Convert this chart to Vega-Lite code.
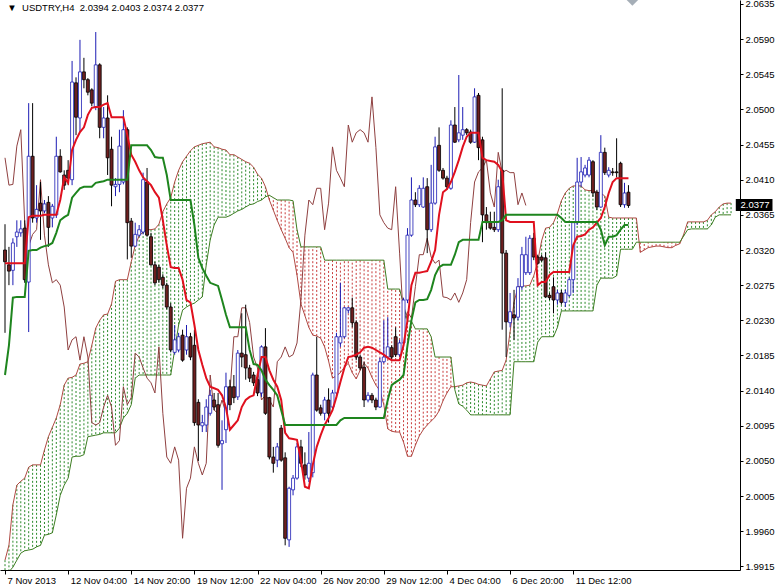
{
"$schema":"https://vega.github.io/schema/vega-lite/v6.json",
"width":740,"height":570,
"autosize":{"type":"none"},
"padding":{"left":0,"top":0,"right":36,"bottom":17},
"background":"white",
"resolve":{"axis":{"x":"independent","y":"independent"}},
"config":{"view":{"stroke":null},"axis":{"labelFont":"Liberation Sans","labelFontSize":9.5,"labelColor":"#000000","domainColor":"#000000","tickColor":"#000000","grid":false,"domainWidth":1,"tickWidth":1,"labelOverlap":false,"labelBound":false,"labelFlush":false}},
"datasets":{
"bars":[
{"i":0,"o":2.032,"h":2.0353,"l":2.0214,"c":2.0305,"t":2.0303,"k":2.016},
{"i":1,"o":2.0301,"h":2.0324,"l":2.0275,"c":2.0293,"t":2.0303,"k":2.0198},
{"i":2,"o":2.0294,"h":2.0335,"l":2.0275,"c":2.0329,"t":2.0303,"k":2.0259},
{"i":3,"o":2.0337,"h":2.0358,"l":2.0324,"c":2.0343,"t":2.0303,"k":2.026},
{"i":4,"o":2.0342,"h":2.0358,"l":2.0337,"c":2.0347,"t":2.0303,"k":2.026},
{"i":5,"o":2.0348,"h":2.0358,"l":2.0278,"c":2.0282,"t":2.0303,"k":2.026},
{"i":6,"o":2.0279,"h":2.0508,"l":2.0215,"c":2.044,"t":2.0362,"k":2.0319},
{"i":7,"o":2.044,"h":2.0508,"l":2.0355,"c":2.0361,"t":2.0364,"k":2.032},
{"i":8,"o":2.0361,"h":2.0403,"l":2.0355,"c":2.0372,"t":2.0364,"k":2.032},
{"i":9,"o":2.038,"h":2.0407,"l":2.0333,"c":2.037,"t":2.0364,"k":2.0323},
{"i":10,"o":2.037,"h":2.0384,"l":2.0367,"c":2.0379,"t":2.0365,"k":2.0325},
{"i":11,"o":2.0381,"h":2.0389,"l":2.0324,"c":2.0349,"t":2.0365,"k":2.0326},
{"i":12,"o":2.0361,"h":2.0379,"l":2.0349,"c":2.0376,"t":2.0365,"k":2.0329},
{"i":13,"o":2.0365,"h":2.0465,"l":2.0361,"c":2.044,"t":2.0365,"k":2.0342},
{"i":14,"o":2.044,"h":2.0449,"l":2.0419,"c":2.042,"t":2.0384,"k":2.0358},
{"i":15,"o":2.0416,"h":2.0422,"l":2.0397,"c":2.0403,"t":2.0413,"k":2.0362},
{"i":16,"o":2.0422,"h":2.0435,"l":2.0403,"c":2.0412,"t":2.0406,"k":2.0365},
{"i":17,"o":2.041,"h":2.0562,"l":2.0403,"c":2.0535,"t":2.0448,"k":2.0387},
{"i":18,"o":2.0534,"h":2.0541,"l":2.0467,"c":2.049,"t":2.0461,"k":2.0393},
{"i":19,"o":2.0489,"h":2.0589,"l":2.0471,"c":2.0548,"t":2.0471,"k":2.0399},
{"i":20,"o":2.0548,"h":2.0566,"l":2.0527,"c":2.0538,"t":2.0477,"k":2.0401},
{"i":21,"o":2.0538,"h":2.054,"l":2.0518,"c":2.0522,"t":2.0493,"k":2.0401},
{"i":22,"o":2.0525,"h":2.0527,"l":2.0504,"c":2.0508,"t":2.0502,"k":2.0401},
{"i":23,"o":2.0503,"h":2.0599,"l":2.0499,"c":2.0557,"t":2.0503,"k":2.0406},
{"i":24,"o":2.0557,"h":2.0559,"l":2.0463,"c":2.0477,"t":2.0503,"k":2.0407},
{"i":25,"o":2.0477,"h":2.0503,"l":2.0463,"c":2.0489,"t":2.0506,"k":2.0408},
{"i":26,"o":2.0489,"h":2.0518,"l":2.0416,"c":2.0438,"t":2.0508,"k":2.041},
{"i":27,"o":2.0449,"h":2.0465,"l":2.0376,"c":2.0403,"t":2.049,"k":2.041},
{"i":28,"o":2.0401,"h":2.0412,"l":2.0389,"c":2.0404,"t":2.049,"k":2.041},
{"i":29,"o":2.0404,"h":2.0474,"l":2.0394,"c":2.0453,"t":2.049,"k":2.041},
{"i":30,"o":2.0407,"h":2.0499,"l":2.0404,"c":2.0474,"t":2.049,"k":2.041},
{"i":31,"o":2.0474,"h":2.0477,"l":2.0308,"c":2.0355,"t":2.0467,"k":2.041},
{"i":32,"o":2.0357,"h":2.0361,"l":2.031,"c":2.0325,"t":2.0442,"k":2.0454},
{"i":33,"o":2.0325,"h":2.0355,"l":2.0324,"c":2.034,"t":2.0433,"k":2.0454},
{"i":34,"o":2.0339,"h":2.0352,"l":2.0337,"c":2.0346,"t":2.0422,"k":2.0454},
{"i":35,"o":2.0343,"h":2.0419,"l":2.034,"c":2.041,"t":2.0413,"k":2.0454},
{"i":36,"o":2.0407,"h":2.0425,"l":2.0337,"c":2.0339,"t":2.0408,"k":2.0454},
{"i":37,"o":2.0337,"h":2.0342,"l":2.03,"c":2.0301,"t":2.0403,"k":2.0448},
{"i":38,"o":2.0301,"h":2.0305,"l":2.0275,"c":2.0278,"t":2.0394,"k":2.0439},
{"i":39,"o":2.0298,"h":2.0301,"l":2.0278,"c":2.0282,"t":2.0387,"k":2.0438},
{"i":40,"o":2.0285,"h":2.0289,"l":2.0271,"c":2.0275,"t":2.0358,"k":2.0438},
{"i":41,"o":2.0275,"h":2.0278,"l":2.0244,"c":2.0247,"t":2.0326,"k":2.0416},
{"i":42,"o":2.0247,"h":2.0252,"l":2.0189,"c":2.0192,"t":2.0298,"k":2.0384},
{"i":43,"o":2.0189,"h":2.0224,"l":2.0186,"c":2.0205,"t":2.0297,"k":2.0384},
{"i":44,"o":2.0192,"h":2.0214,"l":2.0189,"c":2.0209,"t":2.0297,"k":2.0384},
{"i":45,"o":2.0211,"h":2.0218,"l":2.0177,"c":2.0179,"t":2.0282,"k":2.0384},
{"i":46,"o":2.0192,"h":2.0224,"l":2.0186,"c":2.0209,"t":2.0256,"k":2.0384},
{"i":47,"o":2.0209,"h":2.0214,"l":2.0179,"c":2.0183,"t":2.0253,"k":2.0384},
{"i":48,"o":2.0198,"h":2.0218,"l":2.0095,"c":2.0099,"t":2.0224,"k":2.0352},
{"i":49,"o":2.0125,"h":2.0129,"l":2.005,"c":2.0096,"t":2.0192,"k":2.031},
{"i":50,"o":2.0095,"h":2.0109,"l":2.0087,"c":2.0099,"t":2.0173,"k":2.0297},
{"i":51,"o":2.0096,"h":2.0129,"l":2.0087,"c":2.0119,"t":2.0156,"k":2.0287},
{"i":52,"o":2.0111,"h":2.0141,"l":2.0108,"c":2.0134,"t":2.0145,"k":2.0278},
{"i":53,"o":2.0128,"h":2.0137,"l":2.0115,"c":2.0119,"t":2.0143,"k":2.0276},
{"i":54,"o":2.0122,"h":2.0137,"l":2.0067,"c":2.007,"t":2.0141,"k":2.0274},
{"i":55,"o":2.0072,"h":2.0102,"l":2.0013,"c":2.0076,"t":2.0134,"k":2.0256},
{"i":56,"o":2.009,"h":2.0163,"l":2.0073,"c":2.0145,"t":2.0118,"k":2.0237},
{"i":57,"o":2.0145,"h":2.0154,"l":2.0115,"c":2.0122,"t":2.009,"k":2.0221},
{"i":58,"o":2.0145,"h":2.016,"l":2.0124,"c":2.0131,"t":2.0096,"k":2.0221},
{"i":59,"o":2.0132,"h":2.0192,"l":2.0128,"c":2.0188,"t":2.0102,"k":2.0221},
{"i":60,"o":2.0188,"h":2.0239,"l":2.017,"c":2.0183,"t":2.0119,"k":2.0221},
{"i":61,"o":2.0186,"h":2.025,"l":2.0154,"c":2.0169,"t":2.0128,"k":2.0221},
{"i":62,"o":2.0169,"h":2.0173,"l":2.0151,"c":2.0156,"t":2.0132,"k":2.0192},
{"i":63,"o":2.016,"h":2.0164,"l":2.0146,"c":2.015,"t":2.0134,"k":2.0174},
{"i":64,"o":2.0154,"h":2.0157,"l":2.0133,"c":2.0137,"t":2.016,"k":2.0173},
{"i":65,"o":2.0137,"h":2.0198,"l":2.0132,"c":2.0196,"t":2.0183,"k":2.0166},
{"i":66,"o":2.0196,"h":2.022,"l":2.0109,"c":2.0111,"t":2.0183,"k":2.0154},
{"i":67,"o":2.0131,"h":2.0132,"l":2.0052,"c":2.0055,"t":2.0166,"k":2.0147},
{"i":68,"o":2.0055,"h":2.0068,"l":2.0035,"c":2.0047,"t":2.0154,"k":2.0141},
{"i":69,"o":2.0051,"h":2.0073,"l":2.0042,"c":2.0068,"t":2.0145,"k":2.0134},
{"i":70,"o":2.0092,"h":2.0096,"l":2.0049,"c":2.0051,"t":2.0128,"k":2.0115},
{"i":71,"o":2.0054,"h":2.0061,"l":1.9942,"c":1.9951,"t":2.0086,"k":2.0096},
{"i":72,"o":1.9949,"h":2.0017,"l":1.994,"c":2.0015,"t":2.0079,"k":2.0096},
{"i":73,"o":2.0013,"h":2.0032,"l":2.0006,"c":2.0028,"t":2.0078,"k":2.0096},
{"i":74,"o":2.0028,"h":2.0073,"l":2.0026,"c":2.0068,"t":2.0077,"k":2.0096},
{"i":75,"o":2.0068,"h":2.0077,"l":2.0042,"c":2.0047,"t":2.0051,"k":2.0096},
{"i":76,"o":2.0045,"h":2.0061,"l":2.0026,"c":2.0032,"t":2.0017,"k":2.0096},
{"i":77,"o":2.0028,"h":2.0087,"l":2.0023,"c":2.0047,"t":2.0015,"k":2.0096},
{"i":78,"o":2.0035,"h":2.0163,"l":2.0029,"c":2.016,"t":2.0045,"k":2.0096},
{"i":79,"o":2.016,"h":2.0209,"l":2.0113,"c":2.0115,"t":2.0068,"k":2.0096},
{"i":80,"o":2.0118,"h":2.0122,"l":2.0108,"c":2.0111,"t":2.0083,"k":2.0096},
{"i":81,"o":2.0111,"h":2.0132,"l":2.0102,"c":2.0128,"t":2.0096,"k":2.0096},
{"i":82,"o":2.0128,"h":2.0143,"l":2.0099,"c":2.0111,"t":2.0105,"k":2.0096},
{"i":83,"o":2.0119,"h":2.0141,"l":2.0115,"c":2.0137,"t":2.0115,"k":2.0096},
{"i":84,"o":2.0137,"h":2.0214,"l":2.0132,"c":2.0209,"t":2.0132,"k":2.0096},
{"i":85,"o":2.0201,"h":2.0278,"l":2.0196,"c":2.0209,"t":2.0151,"k":2.0102},
{"i":86,"o":2.0209,"h":2.0247,"l":2.0207,"c":2.0246,"t":2.0169,"k":2.0105},
{"i":87,"o":2.0243,"h":2.0247,"l":2.0239,"c":2.0246,"t":2.0183,"k":2.0105},
{"i":88,"o":2.0246,"h":2.0259,"l":2.0221,"c":2.0227,"t":2.0184,"k":2.0105},
{"i":89,"o":2.0227,"h":2.023,"l":2.0179,"c":2.0183,"t":2.0186,"k":2.0105},
{"i":90,"o":2.0183,"h":2.0186,"l":2.0166,"c":2.0169,"t":2.0189,"k":2.0105},
{"i":91,"o":2.017,"h":2.0177,"l":2.0119,"c":2.0128,"t":2.0195,"k":2.0105},
{"i":92,"o":2.0128,"h":2.0138,"l":2.0125,"c":2.0134,"t":2.0196,"k":2.0105},
{"i":93,"o":2.0134,"h":2.0137,"l":2.0124,"c":2.0128,"t":2.0195,"k":2.0105},
{"i":94,"o":2.0128,"h":2.0131,"l":2.0115,"c":2.0119,"t":2.0192,"k":2.0105},
{"i":95,"o":2.0119,"h":2.0182,"l":2.0118,"c":2.0177,"t":2.0189,"k":2.0105},
{"i":96,"o":2.0177,"h":2.023,"l":2.0175,"c":2.0183,"t":2.0186,"k":2.0105},
{"i":97,"o":2.0183,"h":2.0234,"l":2.0182,"c":2.0196,"t":2.0182,"k":2.0128},
{"i":98,"o":2.0195,"h":2.0198,"l":2.0179,"c":2.0183,"t":2.0179,"k":2.0147},
{"i":99,"o":2.0209,"h":2.0221,"l":2.0183,"c":2.0186,"t":2.0179,"k":2.0151},
{"i":100,"o":2.0186,"h":2.0205,"l":2.0183,"c":2.0201,"t":2.0179,"k":2.0154},
{"i":101,"o":2.0201,"h":2.0259,"l":2.0198,"c":2.0256,"t":2.0198,"k":2.016},
{"i":102,"o":2.0256,"h":2.0348,"l":2.0252,"c":2.0339,"t":2.023,"k":2.0198},
{"i":103,"o":2.0339,"h":2.0413,"l":2.0337,"c":2.0384,"t":2.0275,"k":2.023},
{"i":104,"o":2.0384,"h":2.0394,"l":2.0375,"c":2.0378,"t":2.0291,"k":2.0253},
{"i":105,"o":2.0378,"h":2.0403,"l":2.0375,"c":2.0399,"t":2.0291,"k":2.0256},
{"i":106,"o":2.0375,"h":2.0413,"l":2.0374,"c":2.0399,"t":2.0292,"k":2.0256},
{"i":107,"o":2.0401,"h":2.0412,"l":2.0316,"c":2.0346,"t":2.0293,"k":2.0257},
{"i":108,"o":2.0346,"h":2.0429,"l":2.0343,"c":2.038,"t":2.0305,"k":2.0269},
{"i":109,"o":2.038,"h":2.0465,"l":2.0378,"c":2.0452,"t":2.032,"k":2.0288},
{"i":110,"o":2.0454,"h":2.0477,"l":2.042,"c":2.0422,"t":2.0365,"k":2.0298},
{"i":111,"o":2.0422,"h":2.0425,"l":2.041,"c":2.0412,"t":2.0394,"k":2.0301},
{"i":112,"o":2.0412,"h":2.0415,"l":2.0397,"c":2.0401,"t":2.0398,"k":2.0301},
{"i":113,"o":2.0399,"h":2.0486,"l":2.0397,"c":2.048,"t":2.0407,"k":2.0301},
{"i":114,"o":2.048,"h":2.0503,"l":2.0457,"c":2.0458,"t":2.042,"k":2.0314},
{"i":115,"o":2.0461,"h":2.0544,"l":2.0458,"c":2.047,"t":2.0435,"k":2.033},
{"i":116,"o":2.0467,"h":2.0503,"l":2.0461,"c":2.0474,"t":2.0452,"k":2.0333},
{"i":117,"o":2.0474,"h":2.0476,"l":2.0467,"c":2.047,"t":2.0465,"k":2.0333},
{"i":118,"o":2.0471,"h":2.0474,"l":2.0456,"c":2.0458,"t":2.047,"k":2.0333},
{"i":119,"o":2.0458,"h":2.0527,"l":2.0457,"c":2.0516,"t":2.047,"k":2.0333},
{"i":120,"o":2.0518,"h":2.0521,"l":2.0435,"c":2.0451,"t":2.047,"k":2.0333},
{"i":121,"o":2.0461,"h":2.0465,"l":2.033,"c":2.0365,"t":2.0438,"k":2.0356},
{"i":122,"o":2.0365,"h":2.0375,"l":2.0346,"c":2.0355,"t":2.0435,"k":2.0356},
{"i":123,"o":2.0356,"h":2.0369,"l":2.0346,"c":2.0348,"t":2.0434,"k":2.0356},
{"i":124,"o":2.0349,"h":2.0369,"l":2.0343,"c":2.0346,"t":2.0433,"k":2.0356},
{"i":125,"o":2.0346,"h":2.041,"l":2.0343,"c":2.0401,"t":2.0429,"k":2.0356},
{"i":126,"o":2.0422,"h":2.0527,"l":2.0218,"c":2.0316,"t":2.042,"k":2.0358},
{"i":127,"o":2.0316,"h":2.032,"l":2.0183,"c":2.0228,"t":2.0358,"k":2.0365},
{"i":128,"o":2.0227,"h":2.0265,"l":2.0221,"c":2.0241,"t":2.0356,"k":2.0365},
{"i":129,"o":2.0237,"h":2.0269,"l":2.0205,"c":2.0233,"t":2.0356,"k":2.0365},
{"i":130,"o":2.0234,"h":2.0284,"l":2.023,"c":2.0273,"t":2.0356,"k":2.0365},
{"i":131,"o":2.0273,"h":2.0324,"l":2.0269,"c":2.0314,"t":2.0356,"k":2.0365},
{"i":132,"o":2.0291,"h":2.0337,"l":2.0288,"c":2.0314,"t":2.0356,"k":2.0365},
{"i":133,"o":2.0291,"h":2.0339,"l":2.0288,"c":2.0335,"t":2.0356,"k":2.0365},
{"i":134,"o":2.0335,"h":2.0342,"l":2.0307,"c":2.0311,"t":2.0356,"k":2.0365},
{"i":135,"o":2.0311,"h":2.0314,"l":2.0301,"c":2.0303,"t":2.0275,"k":2.0365},
{"i":136,"o":2.0311,"h":2.0314,"l":2.0305,"c":2.0307,"t":2.0279,"k":2.0365},
{"i":137,"o":2.031,"h":2.0317,"l":2.0259,"c":2.026,"t":2.0279,"k":2.0365},
{"i":138,"o":2.0262,"h":2.0265,"l":2.0256,"c":2.0259,"t":2.0288,"k":2.0365},
{"i":139,"o":2.0273,"h":2.0285,"l":2.0239,"c":2.0256,"t":2.0292,"k":2.0365},
{"i":140,"o":2.0256,"h":2.0269,"l":2.025,"c":2.0265,"t":2.0292,"k":2.0365},
{"i":141,"o":2.0265,"h":2.0269,"l":2.025,"c":2.0253,"t":2.0292,"k":2.0361},
{"i":142,"o":2.0253,"h":2.0269,"l":2.0247,"c":2.0265,"t":2.0292,"k":2.0356},
{"i":143,"o":2.0262,"h":2.0285,"l":2.026,"c":2.0282,"t":2.0292,"k":2.0356},
{"i":144,"o":2.0282,"h":2.0356,"l":2.0265,"c":2.0355,"t":2.0326,"k":2.0356},
{"i":145,"o":2.0355,"h":2.0438,"l":2.0352,"c":2.0407,"t":2.0337,"k":2.0356},
{"i":146,"o":2.0407,"h":2.0439,"l":2.0401,"c":2.042,"t":2.0338,"k":2.0356},
{"i":147,"o":2.0416,"h":2.0429,"l":2.0413,"c":2.0425,"t":2.034,"k":2.0356},
{"i":148,"o":2.0416,"h":2.0439,"l":2.0413,"c":2.0435,"t":2.0346,"k":2.0356},
{"i":149,"o":2.0433,"h":2.0435,"l":2.0388,"c":2.0393,"t":2.0349,"k":2.0356},
{"i":150,"o":2.0394,"h":2.0397,"l":2.0371,"c":2.0375,"t":2.0355,"k":2.0356},
{"i":151,"o":2.0375,"h":2.0467,"l":2.0374,"c":2.0445,"t":2.0361,"k":2.0346},
{"i":152,"o":2.0445,"h":2.0451,"l":2.0416,"c":2.0419,"t":2.0375,"k":2.0326},
{"i":153,"o":2.0416,"h":2.0426,"l":2.0413,"c":2.0422,"t":2.0393,"k":2.0337},
{"i":154,"o":2.042,"h":2.0425,"l":2.0415,"c":2.0419,"t":2.0407,"k":2.0337},
{"i":155,"o":2.042,"h":2.0463,"l":2.0413,"c":2.0419,"t":2.0412,"k":2.0339},
{"i":156,"o":2.0431,"h":2.0433,"l":2.0375,"c":2.0378,"t":2.0412,"k":2.0346},
{"i":157,"o":2.0378,"h":2.0406,"l":2.0374,"c":2.0393,"t":2.0412,"k":2.0352},
{"i":158,"o":2.0394,"h":2.0403,"l":2.0374,"c":2.0377,"t":2.0412,"k":2.0352}
],
"cloud":[
{"j":0,"a":1.9923,"b":1.9904},{"j":1,"a":1.9942,"b":1.9908},{"j":2,"a":1.9994,"b":1.9914},{"j":3,"a":2.0019,"b":1.9923},{"j":4,"a":2.0024,"b":1.9932},{"j":5,"a":2.0028,"b":1.9935},{"j":6,"a":2.0042,"b":1.9936},{"j":7,"a":2.0045,"b":1.9937},{"j":8,"a":2.0045,"b":1.994},{"j":9,"a":2.0045,"b":1.9942},
{"j":10,"a":2.0064,"b":1.9955},{"j":11,"a":2.0081,"b":1.9956},{"j":12,"a":2.0093,"b":1.9958},{"j":13,"a":2.0105,"b":1.9981},{"j":14,"a":2.0122,"b":2.0006},{"j":15,"a":2.0147,"b":2.0019},{"j":16,"a":2.0156,"b":2.0028},{"j":17,"a":2.0157,"b":2.0055},{"j":18,"a":2.016,"b":2.0056},{"j":19,"a":2.0174,"b":2.0056},
{"j":20,"a":2.0175,"b":2.0058},{"j":21,"a":2.0177,"b":2.0081},{"j":22,"a":2.0198,"b":2.0082},{"j":23,"a":2.022,"b":2.0083},{"j":24,"a":2.023,"b":2.0084},{"j":25,"a":2.0237,"b":2.0086},{"j":26,"a":2.0238,"b":2.0086},{"j":27,"a":2.0251,"b":2.0086},{"j":28,"a":2.028,"b":2.0086},{"j":29,"a":2.0282,"b":2.0092},
{"j":30,"a":2.0282,"b":2.0105},{"j":31,"a":2.0282,"b":2.0111},{"j":32,"a":2.0305,"b":2.0122},{"j":33,"a":2.0326,"b":2.0156},{"j":34,"a":2.0338,"b":2.016},{"j":35,"a":2.0343,"b":2.016},{"j":36,"a":2.0346,"b":2.016},{"j":37,"a":2.0346,"b":2.016},{"j":38,"a":2.0347,"b":2.016},{"j":39,"a":2.0353,"b":2.016},
{"j":40,"a":2.0369,"b":2.016},{"j":41,"a":2.0379,"b":2.016},{"j":42,"a":2.0387,"b":2.016},{"j":43,"a":2.0407,"b":2.0192},{"j":44,"a":2.0422,"b":2.0224},{"j":45,"a":2.0433,"b":2.0243},{"j":46,"a":2.044,"b":2.0247},{"j":47,"a":2.0447,"b":2.025},{"j":48,"a":2.0452,"b":2.0252},{"j":49,"a":2.0454,"b":2.0256},
{"j":50,"a":2.0456,"b":2.026},{"j":51,"a":2.0457,"b":2.0301},{"j":52,"a":2.0458,"b":2.0333},{"j":53,"a":2.0452,"b":2.0352},{"j":54,"a":2.0451,"b":2.0362},{"j":55,"a":2.0449,"b":2.0362},{"j":56,"a":2.0448,"b":2.0362},{"j":57,"a":2.0442,"b":2.0364},{"j":58,"a":2.0442,"b":2.0367},{"j":59,"a":2.0439,"b":2.037},
{"j":60,"a":2.0436,"b":2.0372},{"j":61,"a":2.0433,"b":2.0375},{"j":62,"a":2.0431,"b":2.0378},{"j":63,"a":2.0426,"b":2.0379},{"j":64,"a":2.0417,"b":2.0382},{"j":65,"a":2.0412,"b":2.0384},{"j":66,"a":2.0401,"b":2.0388},{"j":67,"a":2.0384,"b":2.039},{"j":68,"a":2.0371,"b":2.0387},{"j":69,"a":2.0358,"b":2.0384},
{"j":70,"a":2.0346,"b":2.0384},{"j":71,"a":2.0335,"b":2.0384},{"j":72,"a":2.0323,"b":2.0384},{"j":73,"a":2.0317,"b":2.0383},{"j":74,"a":2.0288,"b":2.0346},{"j":75,"a":2.0251,"b":2.0324},{"j":76,"a":2.0236,"b":2.0324},{"j":77,"a":2.0221,"b":2.0324},{"j":78,"a":2.0211,"b":2.0324},{"j":79,"a":2.021,"b":2.0324},
{"j":80,"a":2.0207,"b":2.0324},{"j":81,"a":2.0196,"b":2.0307},{"j":82,"a":2.0178,"b":2.0307},{"j":83,"a":2.0156,"b":2.0307},{"j":84,"a":2.0159,"b":2.0307},{"j":85,"a":2.0163,"b":2.0307},{"j":86,"a":2.017,"b":2.0307},{"j":87,"a":2.0175,"b":2.0307},{"j":88,"a":2.0163,"b":2.0307},{"j":89,"a":2.0155,"b":2.0307},
{"j":90,"a":2.0166,"b":2.0307},{"j":91,"a":2.0175,"b":2.0307},{"j":92,"a":2.0169,"b":2.0307},{"j":93,"a":2.0157,"b":2.0307},{"j":94,"a":2.0147,"b":2.0307},{"j":95,"a":2.014,"b":2.0307},{"j":96,"a":2.0122,"b":2.0307},{"j":97,"a":2.0091,"b":2.027},{"j":98,"a":2.0088,"b":2.027},{"j":99,"a":2.0087,"b":2.027},
{"j":100,"a":2.0087,"b":2.027},{"j":101,"a":2.0074,"b":2.025},{"j":102,"a":2.0056,"b":2.0229},{"j":103,"a":2.0056,"b":2.0229},{"j":104,"a":2.007,"b":2.0219},{"j":105,"a":2.0082,"b":2.0219},{"j":106,"a":2.009,"b":2.0219},{"j":107,"a":2.0096,"b":2.0219},{"j":108,"a":2.0101,"b":2.0209},{"j":109,"a":2.0106,"b":2.0183},
{"j":110,"a":2.0114,"b":2.0183},{"j":111,"a":2.0127,"b":2.0183},{"j":112,"a":2.0137,"b":2.0183},{"j":113,"a":2.0145,"b":2.0183},{"j":114,"a":2.0145,"b":2.0141},{"j":115,"a":2.0146,"b":2.0123},{"j":116,"a":2.0147,"b":2.012},{"j":117,"a":2.015,"b":2.0115},{"j":118,"a":2.0151,"b":2.0109},{"j":119,"a":2.015,"b":2.0109},
{"j":120,"a":2.0148,"b":2.0109},{"j":121,"a":2.0147,"b":2.0109},{"j":122,"a":2.0146,"b":2.0109},{"j":123,"a":2.0155,"b":2.0109},{"j":124,"a":2.0164,"b":2.0109},{"j":125,"a":2.0165,"b":2.0109},{"j":126,"a":2.0166,"b":2.0109},{"j":127,"a":2.0179,"b":2.0109},{"j":128,"a":2.0215,"b":2.0109},{"j":129,"a":2.0253,"b":2.0177},
{"j":130,"a":2.0273,"b":2.0177},{"j":131,"a":2.0274,"b":2.0177},{"j":132,"a":2.0274,"b":2.0177},{"j":133,"a":2.0275,"b":2.0177},{"j":134,"a":2.0287,"b":2.0177},{"j":135,"a":2.0305,"b":2.0202},{"j":136,"a":2.0332,"b":2.0209},{"j":137,"a":2.0348,"b":2.0209},{"j":138,"a":2.0349,"b":2.0209},{"j":139,"a":2.0355,"b":2.0209},
{"j":140,"a":2.0367,"b":2.0221},{"j":141,"a":2.0383,"b":2.0242},{"j":142,"a":2.0393,"b":2.0242},{"j":143,"a":2.0399,"b":2.0242},{"j":144,"a":2.0402,"b":2.0242},{"j":145,"a":2.0402,"b":2.0242},{"j":146,"a":2.0402,"b":2.0242},{"j":147,"a":2.0397,"b":2.0242},{"j":148,"a":2.0396,"b":2.0242},{"j":149,"a":2.0396,"b":2.0242},
{"j":150,"a":2.0394,"b":2.0275},{"j":151,"a":2.0393,"b":2.0284},{"j":152,"a":2.0389,"b":2.0284},{"j":153,"a":2.0362,"b":2.0284},{"j":154,"a":2.0361,"b":2.0284},{"j":155,"a":2.0361,"b":2.0287},{"j":156,"a":2.0361,"b":2.0321},{"j":157,"a":2.0361,"b":2.0321},{"j":158,"a":2.0361,"b":2.0321},{"j":159,"a":2.0361,"b":2.0321},
{"j":160,"a":2.0361,"b":2.033},{"j":161,"a":2.0317,"b":2.033},{"j":162,"a":2.032,"b":2.033},{"j":163,"a":2.0323,"b":2.033},{"j":164,"a":2.0324,"b":2.033},{"j":165,"a":2.0325,"b":2.033},{"j":166,"a":2.0325,"b":2.033},{"j":167,"a":2.0324,"b":2.033},{"j":168,"a":2.0323,"b":2.033},{"j":169,"a":2.0323,"b":2.033},
{"j":170,"a":2.0326,"b":2.033},{"j":171,"a":2.0328,"b":2.033},{"j":172,"a":2.034,"b":2.0338},{"j":173,"a":2.0356,"b":2.0346},{"j":174,"a":2.0356,"b":2.0347},{"j":175,"a":2.0356,"b":2.0347},{"j":176,"a":2.0356,"b":2.0347},{"j":177,"a":2.0356,"b":2.0347},{"j":178,"a":2.0358,"b":2.0347},{"j":179,"a":2.0365,"b":2.0352},
{"j":180,"a":2.0369,"b":2.0362},{"j":181,"a":2.0375,"b":2.0365},{"j":182,"a":2.0379,"b":2.0365},{"j":183,"a":2.038,"b":2.0365},{"j":184,"a":2.038,"b":2.0365}
],
"chk":[
{"j":0,"v":2.0438},{"j":1,"v":2.0403},{"j":2,"v":2.0404},{"j":3,"v":2.0453},{"j":4,"v":2.0474},{"j":5,"v":2.0355},{"j":6,"v":2.0325},{"j":7,"v":2.034},{"j":8,"v":2.0346},{"j":9,"v":2.041},
{"j":10,"v":2.0339},{"j":11,"v":2.0301},{"j":12,"v":2.0278},{"j":13,"v":2.0282},{"j":14,"v":2.0275},{"j":15,"v":2.0247},{"j":16,"v":2.0192},{"j":17,"v":2.0205},{"j":18,"v":2.0209},{"j":19,"v":2.0179},
{"j":20,"v":2.0209},{"j":21,"v":2.0183},{"j":22,"v":2.0099},{"j":23,"v":2.0096},{"j":24,"v":2.0099},{"j":25,"v":2.0119},{"j":26,"v":2.0134},{"j":27,"v":2.0119},{"j":28,"v":2.007},{"j":29,"v":2.0076},
{"j":30,"v":2.0145},{"j":31,"v":2.0122},{"j":32,"v":2.0131},{"j":33,"v":2.0188},{"j":34,"v":2.0183},{"j":35,"v":2.0169},{"j":36,"v":2.0156},{"j":37,"v":2.015},{"j":38,"v":2.0137},{"j":39,"v":2.0196},
{"j":40,"v":2.0111},{"j":41,"v":2.0055},{"j":42,"v":2.0047},{"j":43,"v":2.0068},{"j":44,"v":2.0051},{"j":45,"v":1.9951},{"j":46,"v":2.0015},{"j":47,"v":2.0028},{"j":48,"v":2.0068},{"j":49,"v":2.0047},
{"j":50,"v":2.0032},{"j":51,"v":2.0047},{"j":52,"v":2.016},{"j":53,"v":2.0115},{"j":54,"v":2.0111},{"j":55,"v":2.0128},{"j":56,"v":2.0111},{"j":57,"v":2.0137},{"j":58,"v":2.0209},{"j":59,"v":2.0209},
{"j":60,"v":2.0246},{"j":61,"v":2.0246},{"j":62,"v":2.0227},{"j":63,"v":2.0183},{"j":64,"v":2.0169},{"j":65,"v":2.0128},{"j":66,"v":2.0134},{"j":67,"v":2.0128},{"j":68,"v":2.0119},{"j":69,"v":2.0177},
{"j":70,"v":2.0183},{"j":71,"v":2.0196},{"j":72,"v":2.0183},{"j":73,"v":2.0186},{"j":74,"v":2.0201},{"j":75,"v":2.0256},{"j":76,"v":2.0339},{"j":77,"v":2.0384},{"j":78,"v":2.0378},{"j":79,"v":2.0399},
{"j":80,"v":2.0399},{"j":81,"v":2.0346},{"j":82,"v":2.038},{"j":83,"v":2.0452},{"j":84,"v":2.0422},{"j":85,"v":2.0412},{"j":86,"v":2.0401},{"j":87,"v":2.048},{"j":88,"v":2.0458},{"j":89,"v":2.047},
{"j":90,"v":2.0474},{"j":91,"v":2.047},{"j":92,"v":2.0458},{"j":93,"v":2.0516},{"j":94,"v":2.0451},{"j":95,"v":2.0365},{"j":96,"v":2.0355},{"j":97,"v":2.0348},{"j":98,"v":2.0346},{"j":99,"v":2.0401},
{"j":100,"v":2.0316},{"j":101,"v":2.0228},{"j":102,"v":2.0241},{"j":103,"v":2.0233},{"j":104,"v":2.0273},{"j":105,"v":2.0314},{"j":106,"v":2.0314},{"j":107,"v":2.0335},{"j":108,"v":2.0311},{"j":109,"v":2.0303},
{"j":110,"v":2.0307},{"j":111,"v":2.026},{"j":112,"v":2.0259},{"j":113,"v":2.0256},{"j":114,"v":2.0265},{"j":115,"v":2.0253},{"j":116,"v":2.0265},{"j":117,"v":2.0282},{"j":118,"v":2.0355},{"j":119,"v":2.0407},
{"j":120,"v":2.042},{"j":121,"v":2.0425},{"j":122,"v":2.0435},{"j":123,"v":2.0393},{"j":124,"v":2.0375},{"j":125,"v":2.0445},{"j":126,"v":2.0419},{"j":127,"v":2.0422},{"j":128,"v":2.0419},{"j":129,"v":2.0419},
{"j":130,"v":2.0378},{"j":131,"v":2.0393},{"j":132,"v":2.0377}
]
},
"layer":[
{"data":{"name":"cloud"},
 "mark":{"type":"rule","strokeDash":[2,2],"strokeWidth":1,"clip":true},
 "encoding":{
  "x":{"field":"j","type":"quantitative","scale":{"domain":[0,185],"nice":false,"zero":false},"title":null,
   "axis":{"orient":"bottom","values":[0,16,32,48,64,80,96,112,128,144],"labelExpr":"['7 Nov 2013','12 Nov 04:00','14 Nov 20:00','19 Nov 12:00','22 Nov 04:00','26 Nov 20:00','29 Nov 12:00','4 Dec 04:00','6 Dec 20:00','11 Dec 12:00'][round(datum.value/16)]","tickSize":4,"labelAlign":"left","labelBaseline":"top","labelPadding":1,"labelOffset":2,"labelOverlap":false}},
  "y":{"field":"a","type":"quantitative","scale":{"domain":[1.99104,2.064],"nice":false,"zero":false},"title":null,
   "axis":{"orient":"right","values":[1.9915,1.996,2.0005,2.005,2.0095,2.014,2.0185,2.023,2.0275,2.032,2.0365,2.041,2.0455,2.05,2.0545,2.059,2.0635],"format":".4f","tickSize":3,"labelPadding":2,"labelBaseline":"middle","labelOverlap":false}},
  "y2":{"field":"b"},
  "color":{"condition":{"test":"datum.a >= datum.b","value":"#2b8a2b"},"value":"#c83c3c"}
 }},
{"data":{"name":"cloud"},
 "mark":{"type":"line","color":"#b04a44","strokeWidth":1,"clip":true},
 "encoding":{"x":{"field":"j","type":"quantitative","axis":null},
  "y":{"field":"a","type":"quantitative","axis":null}}},
{"data":{"name":"cloud"},
 "mark":{"type":"line","color":"#3d7d22","strokeWidth":1,"clip":true},
 "encoding":{"x":{"field":"j","type":"quantitative","axis":null},
  "y":{"field":"b","type":"quantitative","axis":null}}},
{"data":{"name":"chk"},
 "mark":{"type":"line","color":"#8f4040","strokeWidth":1,"clip":true},
 "encoding":{"x":{"field":"j","type":"quantitative","axis":null},
  "y":{"field":"v","type":"quantitative","axis":null}}},
{"mark":{"type":"rule","color":"#a0a0a0","strokeWidth":1},
 "encoding":{"y":{"datum":2.0377,"type":"quantitative","axis":null}}},
{"data":{"name":"bars"},
 "mark":{"type":"rule","strokeWidth":1,"clip":true},
 "encoding":{"x":{"field":"i","type":"quantitative","axis":null},
  "y":{"field":"l","type":"quantitative","axis":null},
  "y2":{"field":"h"},
  "color":{"condition":{"test":"datum.c >= datum.o","value":"#1c1cb4"},"value":"#000000"}}},
{"data":{"name":"bars"},
 "mark":{"type":"bar","width":3,"strokeWidth":0.8,"clip":true},
 "encoding":{"x":{"field":"i","type":"quantitative","axis":null},
  "y":{"field":"o","type":"quantitative","axis":null},
  "y2":{"field":"c"},
  "fill":{"condition":{"test":"datum.c >= datum.o","value":"#ffffff"},"value":"#6e1f1f"},
  "stroke":{"condition":{"test":"datum.c >= datum.o","value":"#1c1cb4"},"value":"#000000"}}},
{"data":{"name":"bars"},
 "mark":{"type":"line","color":"#e0101e","strokeWidth":2,"clip":true},
 "encoding":{"x":{"field":"i","type":"quantitative","axis":null},
  "y":{"field":"t","type":"quantitative","axis":null}}},
{"data":{"name":"bars"},
 "mark":{"type":"line","color":"#1e851e","strokeWidth":2,"clip":true},
 "encoding":{"x":{"field":"i","type":"quantitative","axis":null},
  "y":{"field":"k","type":"quantitative","axis":null}}},
{"data":{"values":[{"s":"\u25bc\u00a0\u00a0USDTRY,H4\u00a0\u00a02.0394 2.0403 2.0374 2.0377"}]},
 "mark":{"type":"text","align":"left","baseline":"middle","font":"Liberation Sans","fontSize":9.5,"color":"#000000","clip":false},
 "encoding":{"x":{"datum":0.6,"type":"quantitative","axis":null},
  "y":{"datum":2.063,"type":"quantitative","axis":null},
  "text":{"field":"s"}}},
{"data":{"values":[{"p":2.0377}]},
 "mark":{"type":"rect","color":"#000000","clip":false},
 "encoding":{"x":{"datum":185.2,"type":"quantitative","axis":null},
  "x2":{"datum":194.5},
  "y":{"datum":2.03853,"type":"quantitative","axis":null},
  "y2":{"datum":2.037}}},
{"data":{"values":[{"s":"2.0377"}]},
 "mark":{"type":"text","align":"left","baseline":"middle","font":"Liberation Sans","fontSize":9.5,"color":"#ffffff","clip":false},
 "encoding":{"x":{"datum":186.4,"type":"quantitative","axis":null},
  "y":{"datum":2.0377,"type":"quantitative","axis":null},
  "text":{"field":"s"}}},
{"data":{"values":[{"s":"m"}]},
 "mark":{"type":"point","shape":"diamond","filled":true,"color":"#7f8c99","size":130,"clip":false},
 "encoding":{"x":{"datum":159,"type":"quantitative","axis":null},
  "y":{"datum":2.064,"type":"quantitative","axis":null}}}
]
}
